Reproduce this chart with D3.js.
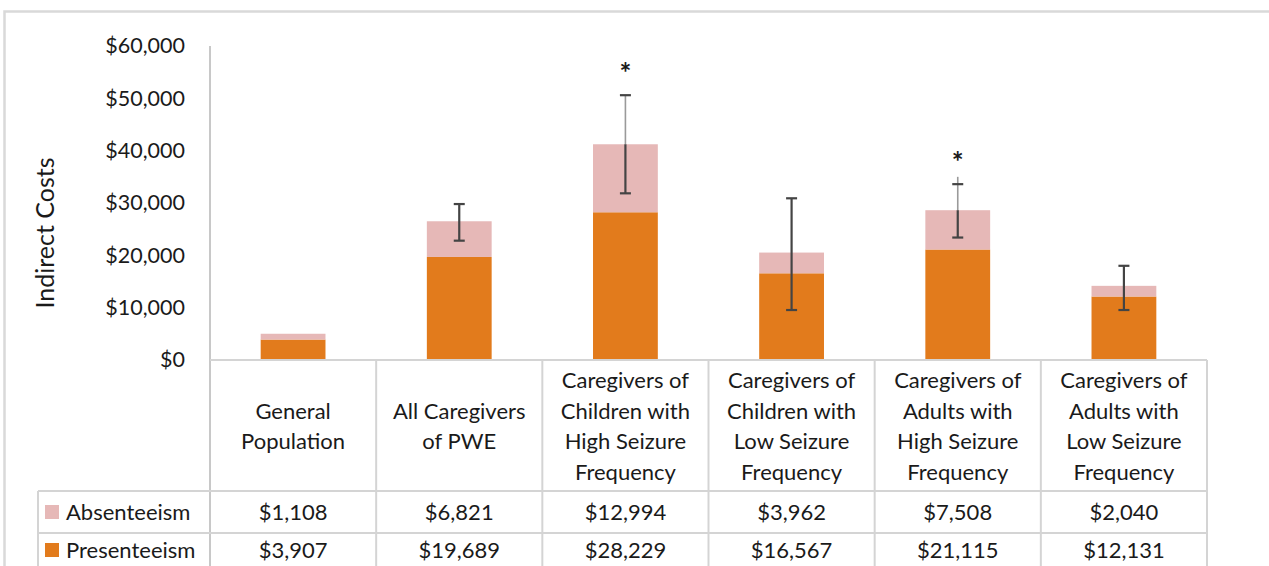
<!DOCTYPE html>
<html>
<head>
<meta charset="utf-8">
<script src="https://cdn.jsdelivr.net/npm/d3@7"></script>
<style>
  html, body { margin: 0; padding: 0; background: #fff; }
  svg { display: block; font-family: Lato, "Open Sans", sans-serif; }
</style>
</head>
<body>
<svg id="chart" width="1269" height="566"></svg>
<script>
// Indirect costs per group, stacked: presenteeism (bottom) + absenteeism (top)
const categories = [
  ["General", "Population"],
  ["All Caregivers", "of PWE"],
  ["Caregivers of", "Children with", "High Seizure", "Frequency"],
  ["Caregivers of", "Children with", "Low Seizure", "Frequency"],
  ["Caregivers of", "Adults with", "High Seizure", "Frequency"],
  ["Caregivers of", "Adults with", "Low Seizure", "Frequency"]
];
const presenteeism = [3907, 19689, 28229, 16567, 21115, 12131];
const absenteeism  = [1108, 6821, 12994, 3962, 7508, 2040];
// Error bar range (low / high) on the total
const errLow  = [null, 22800, 31850, 9550, 23400, 9550];
const errHigh = [null, 29800, 50600, 30900, 33600, 18000];
// Faint stem continuing above the bar top
const faintTop = [null, null, 50600, null, 35000, null];
const significant = [false, false, true, false, true, false];
const yTicks = [0, 10000, 20000, 30000, 40000, 50000, 60000];
const seriesNames = ["Absenteeism", "Presenteeism"];

const colors = { Presenteeism: "#E27B1C", Absenteeism: "#E6B8B7" };
const gridColor = "#d4d4d4";
const ink = "#1a1a1a";
const fmt = d => "$" + d3.format(",")(d);

const svg = d3.select("#chart");
const plotLeft = 210, plotRight = 1207, plotTop = 46, baseY = 360;
const headerBottom = 491, row1Bottom = 533, row2Bottom = 572, legendLeft = 38;
const tableFont = 22;

const keys = categories.map((c, i) => i);
const x = d3.scaleBand().domain(keys).range([plotLeft, plotRight]).paddingInner(0.61).paddingOuter(0.305);
const step = x.step();
const y = d3.scaleLinear().domain([0, 60000]).range([baseY, plotTop]);

// outer frame
svg.append("path")
  .attr("d", `M4.5,${566 + 2} V11.5 H${1269 + 2}`)
  .attr("fill", "none").attr("stroke", "#d9d9d9").attr("stroke-width", 2.5);

// y axis labels
const yAxis = d3.axisLeft(y).tickValues(yTicks).tickFormat(fmt).tickSize(0).tickPadding(25);
const gy = svg.append("g").attr("transform", `translate(${plotLeft},0)`).call(yAxis);
gy.select(".domain").remove();
gy.selectAll("text").attr("font-size", 21.5).attr("fill", ink).attr("font-family", "Lato, sans-serif");

// y axis title
svg.append("text")
  .attr("transform", `translate(54,233) rotate(-90)`)
  .attr("text-anchor", "middle")
  .attr("font-size", 25).attr("fill", ink)
  .text("Indirect Costs");

// stacked bars
const stack = d3.stack().keys(["Presenteeism", "Absenteeism"]);
const rows = keys.map(i => ({ i, Presenteeism: presenteeism[i], Absenteeism: absenteeism[i] }));
const layers = stack(rows);
svg.append("g").selectAll("g").data(layers).join("g")
  .attr("fill", d => colors[d.key])
  .selectAll("rect").data(d => d).join("rect")
  .attr("x", d => x(d.data.i))
  .attr("width", x.bandwidth())
  .attr("y", d => y(d[1]))
  .attr("height", d => y(d[0]) - y(d[1]));

// error bars
const eg = svg.append("g");
keys.forEach(i => {
  if (errLow[i] == null) return;
  const cx = x(i) + x.bandwidth() / 2;
  const total = presenteeism[i] + absenteeism[i];
  const capW = 11;
  if (faintTop[i] != null) {
    eg.append("line").attr("x1", cx).attr("x2", cx)
      .attr("y1", y(faintTop[i])).attr("y2", y(total))
      .attr("stroke", "#9a9a9a").attr("stroke-width", 1.6);
    eg.append("line").attr("x1", cx).attr("x2", cx)
      .attr("y1", y(total)).attr("y2", y(errLow[i]))
      .attr("stroke", "#444").attr("stroke-width", 2.2);
  } else {
    eg.append("line").attr("x1", cx).attr("x2", cx)
      .attr("y1", y(errHigh[i])).attr("y2", y(errLow[i]))
      .attr("stroke", "#444").attr("stroke-width", 2.2);
  }
  [errHigh[i], errLow[i]].forEach(v => {
    eg.append("line").attr("x1", cx - capW / 2).attr("x2", cx + capW / 2)
      .attr("y1", y(v)).attr("y2", y(v))
      .attr("stroke", "#444").attr("stroke-width", 2.2);
  });
  if (significant[i]) {
    // asterisk centred ~27px above the upper cap
    eg.append("text").attr("x", cx).attr("y", y(errHigh[i]) - 27 + 15)
      .attr("text-anchor", "middle").attr("font-size", 28).attr("font-weight", "bold")
      .attr("fill", ink).text("*");
  }
});

// data table grid
const grid = svg.append("g").attr("stroke", gridColor).attr("stroke-width", 2);
grid.append("line").attr("x1", plotLeft).attr("x2", plotLeft).attr("y1", plotTop).attr("y2", row2Bottom).attr("stroke", "#c8c8c8");
grid.append("line").attr("x1", plotLeft).attr("x2", plotRight).attr("y1", baseY).attr("y2", baseY);
[headerBottom, row1Bottom, row2Bottom].forEach(yy =>
  grid.append("line").attr("x1", legendLeft).attr("x2", plotRight).attr("y1", yy).attr("y2", yy));
grid.append("line").attr("x1", legendLeft).attr("x2", legendLeft).attr("y1", headerBottom).attr("y2", row2Bottom);
keys.forEach(i => {
  const xr = plotLeft + step * (i + 1);
  grid.append("line").attr("x1", xr).attr("x2", xr).attr("y1", baseY).attr("y2", row2Bottom);
});

// category header text
const lineH = 30.5;
const hdrMid = (baseY + headerBottom) / 2 + 1;
keys.forEach(i => {
  const cx = plotLeft + step * (i + 0.5);
  const lines = categories[i];
  const t = svg.append("text").attr("text-anchor", "middle").attr("font-size", tableFont).attr("fill", ink);
  lines.forEach((ln, k) => {
    t.append("tspan").attr("x", cx)
      .attr("y", hdrMid + (k - (lines.length - 1) / 2) * lineH)
      .attr("dy", "0.35em").text(ln);
  });
});

// value rows with legend keys
const rowMids = [(headerBottom + row1Bottom) / 2, (row1Bottom + 567) / 2];
const seriesValues = { Absenteeism: absenteeism, Presenteeism: presenteeism };
seriesNames.forEach((name, r) => {
  const ym = rowMids[r];
  svg.append("rect").attr("x", 45).attr("y", ym - 7).attr("width", 14).attr("height", 14).attr("fill", colors[name]);
  svg.append("text").attr("x", 66).attr("y", ym).attr("dy", "0.35em")
    .attr("font-size", tableFont).attr("fill", ink).text(name);
  keys.forEach(i => {
    svg.append("text").attr("x", plotLeft + step * (i + 0.5)).attr("y", ym).attr("dy", "0.35em")
      .attr("text-anchor", "middle").attr("font-size", tableFont).attr("fill", ink)
      .text(fmt(seriesValues[name][i]));
  });
});
</script>
</body>
</html>
